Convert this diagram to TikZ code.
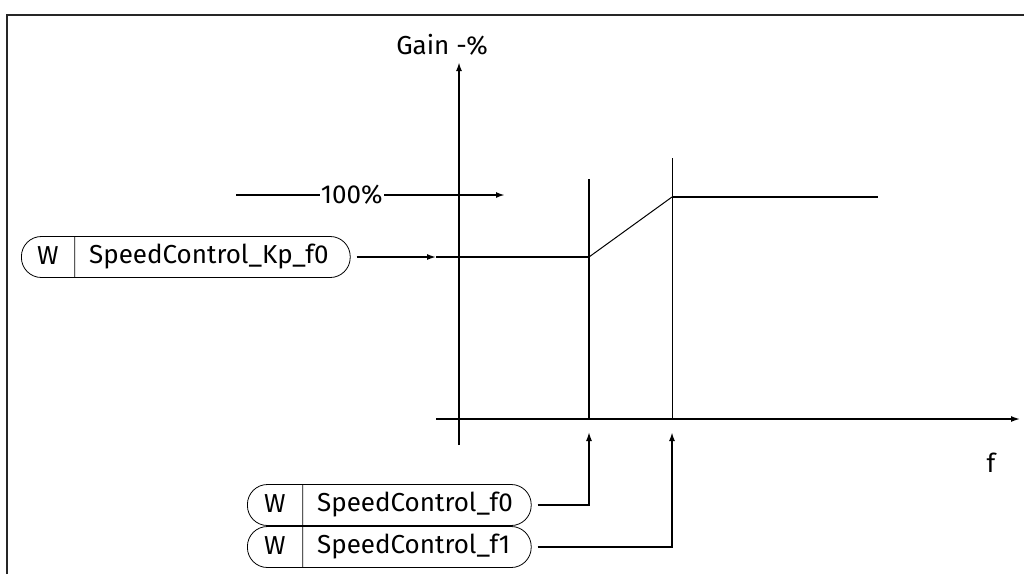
\documentclass[tikz,border=0pt]{standalone}
\usepackage{fontspec}
\setmainfont{Fira Sans}
\usetikzlibrary{arrows.meta,shapes.multipart}

\begin{document}
\begin{tikzpicture}[x=1pt,y=-1pt,font=\fontsize{26}{30}\selectfont,
  tip/.style={-{Latex[length=9pt,width=6pt]}},
  pill/.style={rectangle split,rectangle split horizontal,rectangle split parts=2,
    draw,rounded corners=20pt,inner sep=0pt,line width=.8pt}]
  \useasboundingbox (0,0) rectangle (1024,574);
  \draw[line width=1.5pt,black!85] (7,574) -- (7,15) -- (1024,15);
  \draw[tip,line width=2.2pt] (459,445) -- (459,62);
  \draw[tip,line width=1.5pt] (436,419) -- (1020,419);
  \node (gain) at (442,45) {Gain -\%};
  \node (f) at (991,463) {f};
  \draw[tip,line width=2pt] (236,195) -- node[pos=.43,fill=white,inner sep=1pt] (pct) {100\%} (505,195);
  \draw[line width=2pt] (589,179) -- (589,419);
  \draw[line width=1pt] (672,158) -- (672,419);
  \coordinate (g0) at (436,257); \coordinate (g1) at (589,257);
  \coordinate (g2) at (672,197); \coordinate (g3) at (878,197);
  \draw[line width=2pt] (g0) -- (g1);
  \draw[line width=1pt] (g1) -- (g2);
  \draw[line width=2.5pt] (g2) -- (g3);
  \node[pill,anchor=west] (kp) at (21,257)
    {\makebox[53pt]{\rule[-13pt]{0pt}{41pt}W}\nodepart{two}\makebox[275pt][l]{\hspace{14pt}SpeedControl\_Kp\_f0}};
  \foreach \n/\t/\y in {f0/SpeedControl\_f0/505, f1/SpeedControl\_f1/547}
    \node[pill,anchor=west] (\n) at (247,\y)
      {\makebox[55pt]{\rule[-13pt]{0pt}{41pt}W}\nodepart{two}\makebox[228pt][l]{\hspace{14pt}\t}};
  \coordinate (a0) at (589,432); \coordinate (a1) at (672,432);
  \draw[tip,line width=1.5pt] ([xshift=6pt]kp.east) -- (g0);
  \draw[tip,line width=1.5pt] ([xshift=6pt]f0.east) -| (a0);
  \draw[tip,line width=2pt] ([xshift=6pt]f1.east) -| (a1);
\end{tikzpicture}
\end{document}
